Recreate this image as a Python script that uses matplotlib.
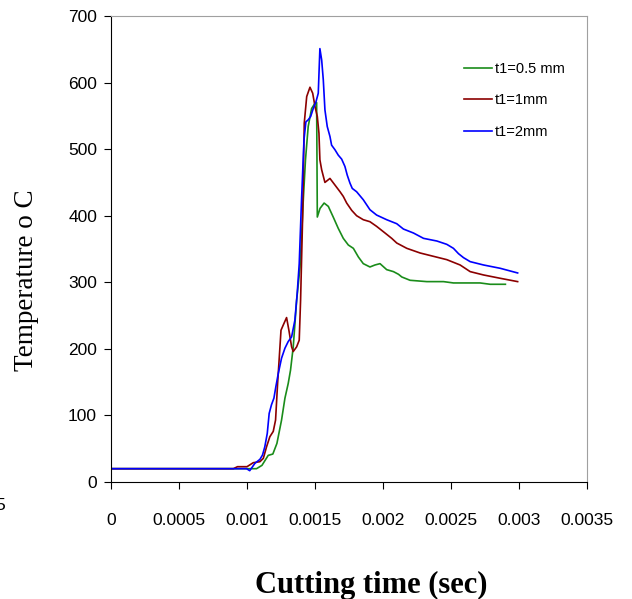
import matplotlib.pyplot as plt
import numpy as np

# datos (tiempo en s, temperatura en C)
t_05 = [0, 0.00107, 0.00111, 0.001156, 0.00119, 0.00122, 0.001254, 0.001279, 0.001303,
        0.00132, 0.00134, 0.001365, 0.00139, 0.001414, 0.00143, 0.00145, 0.001475, 0.0015,
        0.001512, 0.001517, 0.001537, 0.001567, 0.001598, 0.001634, 0.001671, 0.001708,
        0.001745, 0.001782, 0.001819, 0.001855, 0.001904, 0.001941, 0.001978, 0.002027,
        0.002077, 0.002114, 0.002138, 0.002199, 0.002322, 0.002445, 0.002518, 0.002714,
        0.002788, 0.0029]
T_05 = [20, 20, 25, 40, 42, 58, 93, 126, 148,
        168, 203, 273, 323, 424, 484, 534, 561, 569,
        570, 398, 411, 419, 414, 398, 381, 366,
        356, 351, 338, 328, 323, 326, 328, 319,
        316, 312, 308, 303, 301, 301, 299, 299,
        297, 297]

t_1 = [0, 0.0009, 0.00093, 0.001, 0.001046, 0.001095, 0.00112, 0.001144, 0.001168, 0.001193,
       0.00121, 0.001225, 0.001237, 0.00125, 0.001267, 0.001291, 0.001308, 0.001328, 0.00134,
       0.001365, 0.001384, 0.001394, 0.001409, 0.001421, 0.001439, 0.001463, 0.001483, 0.0015,
       0.001517, 0.001529, 0.001536, 0.001549, 0.001573, 0.00161, 0.001647, 0.001684, 0.001708,
       0.001733, 0.00177, 0.001806, 0.001855, 0.001904, 0.001953, 0.002015, 0.002064, 0.002101,
       0.002175, 0.002273, 0.002371, 0.002469, 0.002567, 0.002641, 0.002739, 0.002862, 0.00299]
T_1 = [20, 20, 23, 23, 29, 30.5, 35.5, 53, 68, 76,
       93, 148, 186, 228, 236, 247, 228, 203, 196,
       203, 213, 273, 398, 539, 579, 593, 584, 564,
       549, 524, 484, 469, 450, 456, 446, 436, 429,
       419, 408, 400, 394, 391, 384, 374, 366, 359,
       351, 344, 339, 334, 326, 316, 311, 306, 301]

t_2 = [0, 0.000997, 0.00102, 0.001058, 0.001095, 0.001114, 0.001131, 0.001149, 0.001163,
       0.00118, 0.001198, 0.001212, 0.00123, 0.001254, 0.001279, 0.001303, 0.001328, 0.001352,
       0.001369, 0.001384, 0.001401, 0.001419, 0.001433, 0.00145, 0.001468, 0.001487, 0.001507,
       0.001524, 0.001536, 0.001549, 0.001561, 0.001573, 0.00159, 0.00161, 0.001622, 0.001647,
       0.001671, 0.001696, 0.00172, 0.001737, 0.001757, 0.001774, 0.001806, 0.001855, 0.001904,
       0.001953, 0.002027, 0.002101, 0.00215, 0.002224, 0.002298, 0.002396, 0.002469, 0.002518,
       0.002555, 0.002592, 0.002641, 0.002739, 0.002862, 0.00299]
T_2 = [20, 20, 17, 28, 34, 40.5, 53, 73, 103,
       116, 126, 143, 163, 186, 201, 211, 218, 243,
       283, 328, 424, 514, 541, 544, 549, 561, 571,
       584, 651, 634, 604, 559, 534, 519, 506, 499,
       491, 485, 474, 461, 449, 441, 436, 424, 409,
       401, 394, 388, 380, 374, 366, 362, 357, 351,
       343, 337, 331, 326, 321, 314]

etiquetas = ['t1=0.5 mm', 't1=1mm', 't1=2mm']
colores = ['#1a8c1a', '#8b0000', '#0000ff']

fig = plt.figure(figsize=(6.32, 5.99), dpi=100)
ax = fig.add_axes([111 / 632, 1 - 482 / 599, 476 / 632, 466 / 599])

ax.plot(t_05, T_05, color=colores[0], lw=1.2, label=etiquetas[0])
ax.plot(t_1, T_1, color=colores[1], lw=1.2, label=etiquetas[1])
ax.plot(t_2, T_2, color=colores[2], lw=1.2, label=etiquetas[2])

ax.set_xlim(0, 0.0035)
ax.set_ylim(0, 700)
ax.set_xticks(np.arange(0, 0.00351, 0.0005))
ax.set_xticklabels(['0', '0.0005', '0.001', '0.0015', '0.002', '0.0025', '0.003', '0.0035'],
                   family='Liberation Sans', fontsize=12.5)
ax.set_yticks(range(0, 701, 100))
ax.set_yticklabels([str(v) for v in range(0, 701, 100)], family='Liberation Sans', fontsize=12.5)
ax.tick_params(axis='y', direction='out', length=5, width=0.8, pad=5)
ax.tick_params(axis='x', direction='out', length=5, width=0.8, pad=17.5)

ax.spines['top'].set_color('#a0a0a0')
ax.spines['right'].set_color('#a0a0a0')
ax.spines['left'].set_color('black')
ax.spines['bottom'].set_color('black')

leg = ax.legend(loc='upper left', bbox_to_anchor=(0.7416, 0.9007), frameon=False,
                borderaxespad=0, borderpad=0,
                prop={'family': 'Liberation Sans', 'size': 10.5},
                handlelength=1.92, handletextpad=0.2, labelspacing=1.18)

fig.text(27 / 632, 1 - 280 / 599, 'Temperature o C', rotation=90, ha='center', va='center',
         family='Liberation Serif', fontsize=19.5)
fig.text(371 / 632, 1 - 593 / 599, 'Cutting time (sec)', ha='center', va='baseline',
         family='Liberation Serif', fontweight='bold', fontsize=22)
fig.text(5 / 632, 1 - 505 / 599, '5', ha='right', va='center',
         family='Liberation Sans', fontsize=12.5)

plt.savefig('out.png', dpi=100)
